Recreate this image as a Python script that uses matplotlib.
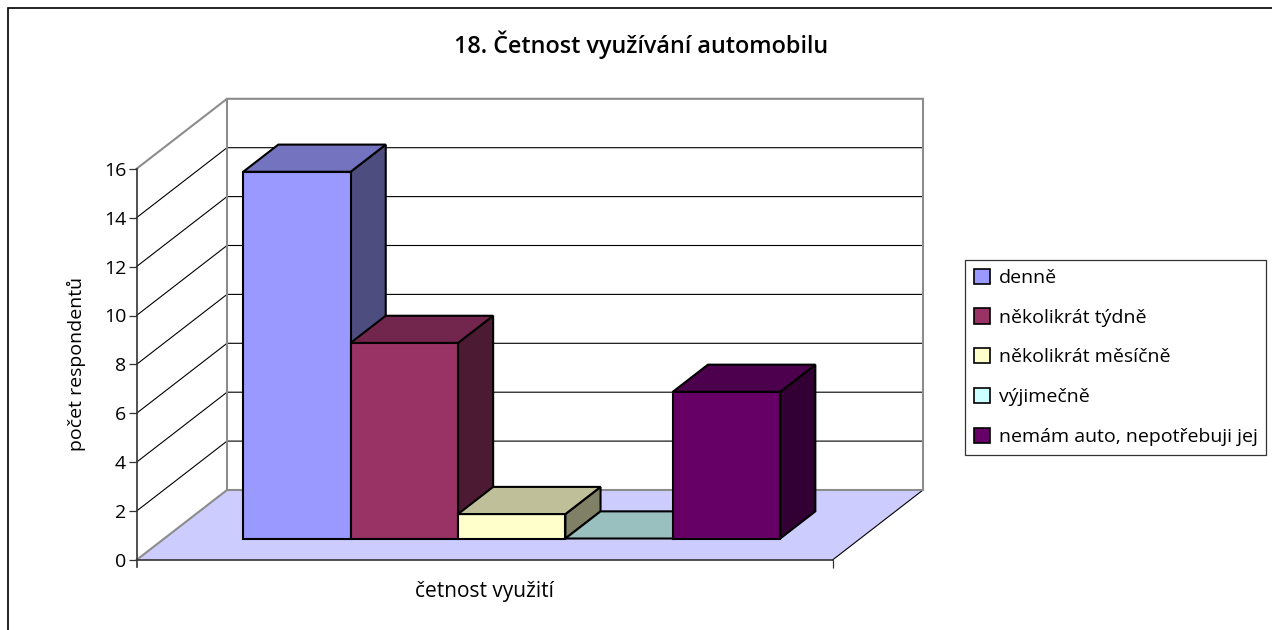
"""18. Četnost využívání automobilu - Excel style 3D column chart."""

from __future__ import annotations

import matplotlib

matplotlib.use("Agg")
import matplotlib.pyplot as plt
from matplotlib.colors import to_rgb
from matplotlib.lines import Line2D
from matplotlib.patches import Patch, Polygon

TITLE = "18. Četnost využívání automobilu"
X_LABEL = "četnost využití"
Y_LABEL = "počet respondentů"
SERIES = ["denně", "několikrát týdně", "několikrát měsíčně", "výjimečně", "nemám auto, nepotřebuji jej"]
VALUES = [15, 8, 1, 0, 6]
COLORS = ["#9999FF", "#993366", "#FFFFCC", "#CCFFFF", "#660066"]
Y_TICKS = [0, 2, 4, 6, 8, 10, 12, 14, 16]

W, H = 1272, 630
FONT = "Open Sans"

# pixel geometry of the oblique projection
PX_X0, PX_Y0 = 136.5, 560.0
PX_PER_BAR = 107.4
PX_PER_UNIT = 24.45
DEPTH_DX, DEPTH_DY = 90.5 / PX_PER_BAR, 70.0 / PX_PER_UNIT
FLOOR_W = (832.5 - PX_X0) / PX_PER_BAR
BAR_START = 0.735
BAR_D0, BAR_D1 = 0.307, 0.695


def proj(x: float, y: float, d: float) -> tuple[float, float]:
    """Shift a point (x, value) back by depth d."""
    return x + d * DEPTH_DX, y + d * DEPTH_DY


def shade(color: str, k: float) -> tuple[float, float, float]:
    return tuple(c * k for c in to_rgb(color))


def draw_bar(ax: plt.Axes, x: float, value: float, color: str) -> None:
    """Front, top and side faces of one column."""
    edge = dict(edgecolor="black", linewidth=1.5, joinstyle="miter")
    bl, br = proj(x, 0, BAR_D0), proj(x + 1, 0, BAR_D0)
    tl, tr = proj(x, value, BAR_D0), proj(x + 1, value, BAR_D0)
    tl2, tr2 = proj(x, value, BAR_D1), proj(x + 1, value, BAR_D1)
    br2 = proj(x + 1, 0, BAR_D1)
    if value > 0:
        ax.add_patch(Polygon([br, tr, tr2, br2], facecolor=shade(color, 0.5), zorder=2, **edge))
        ax.add_patch(Polygon([bl, br, tr, tl], facecolor=color, zorder=2, **edge))
    ax.add_patch(Polygon([tl, tr, tr2, tl2], facecolor=shade(color, 0.75), zorder=2, **edge))


fig = plt.figure(figsize=(W / 100, H / 100), dpi=100, facecolor="white")
ax = fig.add_axes([0, 0, 1, 1])
ax.set_xlim(-PX_X0 / PX_PER_BAR, (W - PX_X0) / PX_PER_BAR)
ax.set_ylim(-(H - PX_Y0) / PX_PER_UNIT, PX_Y0 / PX_PER_UNIT)
ax.patch.set_visible(False)

# outer chart frame, only its top and left edges are inside the picture
fig.add_artist(Line2D([7.5 / W, 7.5 / W, 1], [0, 1 - 7.5 / H, 1 - 7.5 / H], transform=fig.transFigure,
                      color="black", lw=1.2, solid_joinstyle="miter"))

# floor
floor = [proj(0, 0, 0), proj(FLOOR_W, 0, 0), proj(FLOOR_W, 0, 1), proj(0, 0, 1)]
ax.add_patch(Polygon(floor, facecolor="#CCCCFF", edgecolor="none", zorder=1))
ax.plot(*zip(floor[1], floor[2]), color="black", lw=0.8, zorder=1.2)

# gridlines over side and back wall
for v in Y_TICKS[1:-1]:
    xs, ys = zip(proj(0, v, 0), proj(0, v, 1), proj(FLOOR_W, v, 1))
    ax.plot(xs, ys, color="black", lw=0.8, zorder=1.1)

# wall outline in grey
grey = dict(color="#8C8C8C", lw=1.5, zorder=1.3, solid_joinstyle="miter")
top = Y_TICKS[-1]
ax.plot(*zip(proj(0, top, 0), proj(0, top, 1), proj(FLOOR_W, top, 1), proj(FLOOR_W, 0, 1)), **grey)
ax.plot(*zip(proj(0, top, 1), proj(0, 0, 1), proj(FLOOR_W, 0, 1)), **grey)
ax.plot(*zip(proj(0, 0, 0), proj(0, 0, 1)), **grey)

for i, (value, color) in enumerate(zip(VALUES, COLORS)):
    draw_bar(ax, BAR_START + i, value, color)

# real axes for the front edges
for side in ("top", "right"):
    ax.spines[side].set_visible(False)
ax.spines["left"].set_position(("data", 0))
ax.spines["left"].set_bounds(-0.3, top)
ax.spines["bottom"].set_position(("data", 0))
ax.spines["bottom"].set_bounds(0, FLOOR_W)
for side in ("left", "bottom"):
    ax.spines[side].set_color("#333333")
    ax.spines[side].set_linewidth(1.2)
ax.set_yticks(Y_TICKS)
ax.set_xticks([FLOOR_W], labels=[""])
ax.tick_params(axis="both", length=5.5, width=0.9, color="#333333")
ax.tick_params(axis="y", pad=2)
for label in ax.get_yticklabels():
    label.set_fontfamily(FONT)
    label.set_fontsize(14)

fig.text(641 / W, 1 - 45 / H, TITLE, family=FONT, fontsize=16.8, fontweight="semibold",
         ha="center", va="center")
fig.text(484 / W, 1 - 592 / H, X_LABEL, family=FONT, fontsize=15, ha="center", va="center")
fig.text(76 / W, 1 - 364 / H, Y_LABEL, family=FONT, fontsize=14, rotation=90, ha="center", va="center")

handles = [Patch(facecolor=c, edgecolor="black", linewidth=1.2) for c in COLORS]
leg = fig.legend(
    handles,
    SERIES,
    loc="upper left",
    bbox_to_anchor=(965 / W, 1 - 260 / H),
    bbox_transform=fig.transFigure,
    prop={"family": FONT, "size": 14},
    frameon=True,
    fancybox=False,
    framealpha=1,
    edgecolor="#333333",
    borderpad=0.45,
    labelspacing=1.1,
    handlelength=0.82,
    handleheight=0.82,
    handletextpad=0.46,
    borderaxespad=0,
)
leg.get_frame().set_linewidth(0.9)

fig.savefig("out.png", dpi=100)
plt.close(fig)
